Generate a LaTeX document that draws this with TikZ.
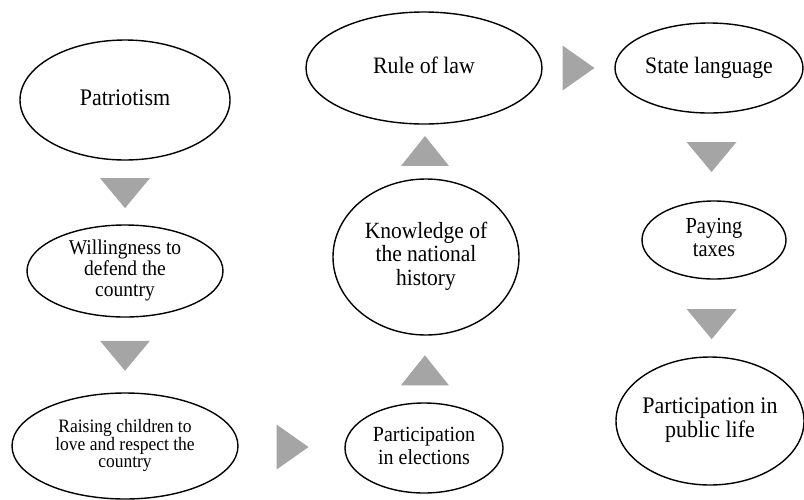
\documentclass[tikz,border=0pt]{standalone}
\usepackage{graphicx}
\usepackage{fontspec}
\setmainfont{Liberation Serif}
\usetikzlibrary{shapes.geometric}
\definecolor{trigray}{RGB}{165,165,165}
\newcommand{\ovaltext}[2][1.08]{\scalebox{1}[#1]{\begin{tabular}{@{}c@{}}#2\end{tabular}}}

\begin{document}
\begin{tikzpicture}[x=1pt,y=-1pt,
        every node/.style={ellipse,draw,line width=1.4pt,align=center,inner xsep=-10pt,inner ysep=0pt},
        fs/.style 2 args={font=\fontsize{#1}{#2}\selectfont},
        oval/.style 2 args={minimum width=#1,minimum height=#2},
        tridown/.pic={\fill[trigray] (-25,-15) -- (25,-15) -- (0,15) -- cycle;},
        triup/.pic={\fill[trigray] (-24,15) -- (24,15) -- (0,-15) -- cycle;},
        triright/.pic={\fill[trigray] (-16,-22.5) -- (-16,22.5) -- (16,0) -- cycle;}]
        \useasboundingbox (0,0) rectangle (804,499);
        \node[oval={210}{120},fs={22}{24}] (pat) at (125,100) {\ovaltext{Patriotism}};
        \node[oval={196}{92},fs={19.5}{19.5}] (will) at (125,271) {\ovaltext{Willingness to\\defend the\\country}};
        \node[oval={226}{106},fs={17.5}{16.2}] (raise) at (125,446) {\ovaltext{Raising children to\\love and respect the\\country}};
        \node[oval={158}{90},fs={20}{21.6}] (elec) at (424,448) {\ovaltext{Participation\\in elections}};
        \node[oval={186}{156},fs={21.5}{21.8}] (know) at (426,257) {\ovaltext{Knowledge of\\the national\\history}};
        \node[oval={236}{112},fs={21.8}{24}] (rule) at (424,68) {\ovaltext{Rule of law}};
        \node[oval={188}{90},fs={21.8}{24}] (state) at (709,68) {\ovaltext{State language}};
        \node[oval={144}{78},fs={20.5}{20.5}] (pay) at (714,240) {\ovaltext[1.12]{Paying\\taxes}};
        \node[oval={188}{128},fs={22}{21.6}] (pub) at (710,421) {\ovaltext{Participation in\\public life}};
        \path (pat.south) -- (will.north) pic[pos=.51]{tridown};
        \path (will.south) -- (raise.north) pic[pos=.51]{tridown};
        \path (raise.east) -- (elec.west) pic[pos=.51]{triright};
        \path (elec.north) -- (know.south) pic[pos=.48]{triup};
        \path (know.north) -- (rule.south) pic[pos=.51]{triup};
        \path (rule.east) -- (state.west) pic[pos=.5]{triright};
        \path (state.south) -- (pay.north) pic[pos=.5]{tridown};
        \path (pay.south) -- (pub.north) pic[pos=.58]{tridown};
\end{tikzpicture}
\end{document}
